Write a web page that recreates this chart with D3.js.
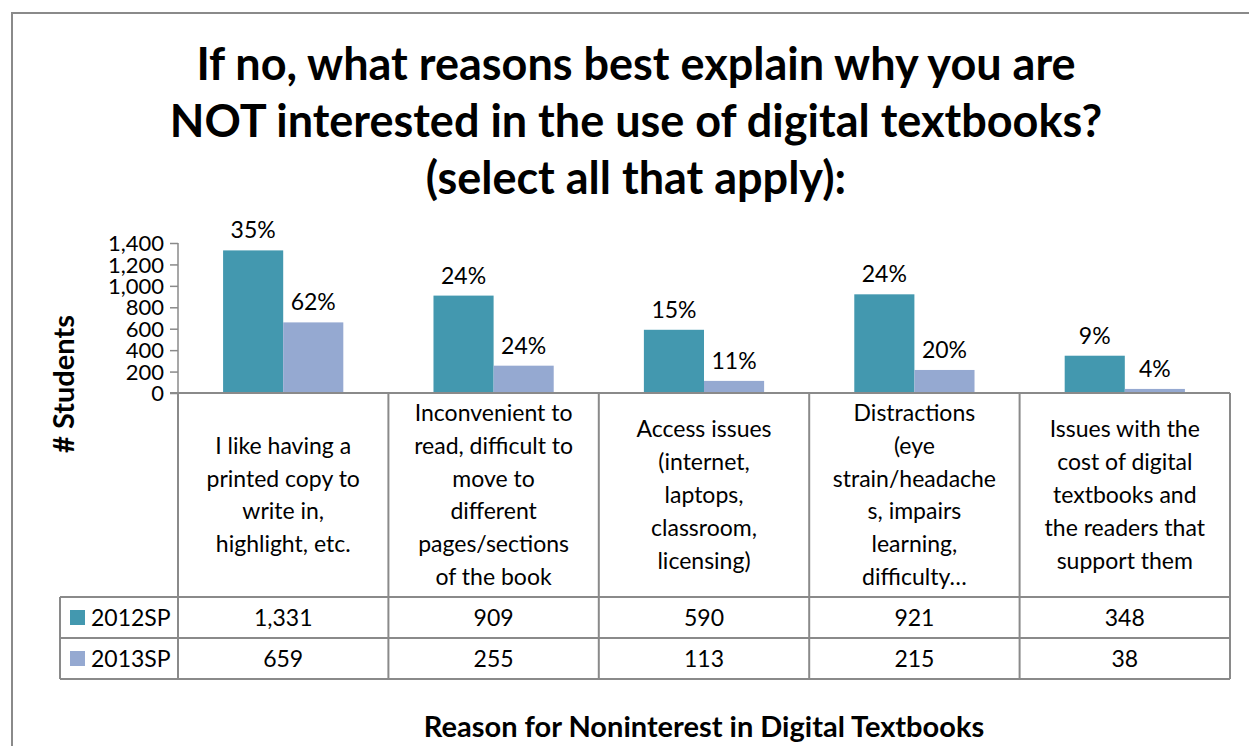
<!DOCTYPE html>
<html lang="en">

<head>
  <meta charset="utf-8">
  <title>Digital textbooks - noninterest</title>
  <script type="text/javascript" src="https://cdn.jsdelivr.net/npm/d3@7"></script>
  <style>
    body { margin: 0; background: #fff; }
    text { font-family: Lato, "Open Sans", sans-serif; fill: #000; }
  </style>
</head>

<body>

  <script type="text/javascript">

    // Categories (wrapped the way the chart's data table shows them)
    var categories = ["printed", "inconvenient", "access", "distractions", "cost"];
    var categoryLines = [
      ["I like having a", "printed copy to", "write in,", "highlight, etc."],
      ["Inconvenient to", "read, difficult to", "move to", "different", "pages/sections", "of the book"],
      ["Access issues", "(internet,", "laptops,", "classroom,", "licensing)"],
      ["Distractions", "(eye", "strain/headache", "s, impairs", "learning,", "difficulty…"],
      ["Issues with the", "cost of digital", "textbooks and", "the readers that", "support them"]
    ];

    var seriesNames = ["2012SP", "2013SP"];
    var values2012 = [1331, 909, 590, 921, 348];
    var values2013 = [659, 255, 113, 215, 38];
    var pct2012 = ["35%", "24%", "15%", "24%", "9%"];
    var pct2013 = ["62%", "24%", "11%", "20%", "4%"];
    var yTicks = [0, 200, 400, 600, 800, 1000, 1200, 1400];

    var titleLines = [
      "If no, what reasons best explain why you are",
      "NOT interested in the use of digital textbooks?",
      "(select all that apply):"
    ];

    var colors = ["#4398AF", "#95A9D1"];
    var lineColor = "#8a8a8a";

    var w = 1249;
    var h = 746;

    // plot area and table geometry
    var plotLeft = 178, plotRight = 1230;
    var plotTop = 243, plotBottom = 393;
    var tableLeft = 60;
    var headerBottom = 597;
    var rowH = 41;
    var bodyFont = "23px";

    var series = seriesNames.map(function (name, s) {
      var vals = s === 0 ? values2012 : values2013;
      var pcts = s === 0 ? pct2012 : pct2013;
      return vals.map(function (v, i) {
        return { series: name, s: s, cat: categories[i], value: v, pct: pcts[i] };
      });
    });

    var svg = d3.select("body")
      .append("svg")
      .attr("width", w)
      .attr("height", h);

    // outer chart border
    svg.append("rect")
      .attr("x", 12)
      .attr("y", 13)
      .attr("width", 1300)
      .attr("height", 800)
      .attr("fill", "#fff")
      .attr("stroke", lineColor)
      .attr("stroke-width", 2);

    // title
    svg.append("g")
      .selectAll("text")
      .data(titleLines)
      .enter()
      .append("text")
      .attr("x", 636)
      .attr("y", function (d, i) { return 80 + i * 57; })
      .attr("text-anchor", "middle")
      .attr("font-size", "45px")
      .attr("font-weight", "bold")
      .text(function (d) { return d; });

    // scales
    var xScale = d3.scaleBand()
      .domain(categories)
      .range([plotLeft, plotRight])
      .paddingInner(0)
      .paddingOuter(0);

    var xInner = d3.scaleBand()
      .domain(seriesNames)
      .range([0, xScale.bandwidth()])
      .paddingInner(0)
      .paddingOuter(0.75);

    var yScale = d3.scaleLinear()
      .domain([0, 1400])
      .range([plotBottom, plotTop]);

    // bars
    var groups = svg.append("g")
      .selectAll("g")
      .data(series)
      .enter()
      .append("g")
      .attr("fill", function (d, s) { return colors[s]; });

    groups.selectAll("rect")
      .data(function (d) { return d; })
      .enter()
      .append("rect")
      .attr("x", function (d) { return xScale(d.cat) + xInner(d.series); })
      .attr("y", function (d) { return yScale(d.value); })
      .attr("width", xInner.bandwidth())
      .attr("height", function (d) { return plotBottom - yScale(d.value); });

    // percent labels
    groups.selectAll("text")
      .data(function (d) { return d; })
      .enter()
      .append("text")
      .attr("x", function (d) { return xScale(d.cat) + xInner(d.series) + xInner.bandwidth() / 2; })
      .attr("y", function (d) { return yScale(d.value) - 12; })
      .attr("text-anchor", "middle")
      .attr("font-size", bodyFont)
      .text(function (d) { return d.pct; });

    // y axis
    var yAxis = d3.axisLeft(yScale)
      .tickValues(yTicks)
      .tickFormat(d3.format(","))
      .tickSize(8)
      .tickPadding(6);

    var yG = svg.append("g")
      .attr("transform", "translate(" + plotLeft + ",0)")
      .call(yAxis);
    yG.select(".domain").attr("stroke", lineColor).attr("stroke-width", 1.5)
      .attr("d", "M0," + plotTop + "V" + plotBottom);
    yG.selectAll(".tick line").attr("stroke", lineColor).attr("stroke-width", 1.5);
    yG.selectAll(".tick text")
      .attr("font-family", "Lato, sans-serif")
      .attr("font-size", "22px")
      .attr("fill", "#000")
      .attr("dy", "0.35em");

    // y axis title
    svg.append("text")
      .attr("transform", "translate(74," + 384 + ") rotate(-90)")
      .attr("text-anchor", "middle")
      .attr("font-size", "29px")
      .attr("font-weight", "bold")
      .text("# Students");

    // data table lines
    var table = svg.append("g")
      .attr("stroke", lineColor)
      .attr("stroke-width", 2)
      .attr("fill", "none");

    // horizontal axis line doubles as table top
    table.append("line")
      .attr("x1", plotLeft - 8).attr("x2", plotRight)
      .attr("y1", plotBottom).attr("y2", plotBottom);

    d3.range(3).forEach(function (r) {
      table.append("line")
        .attr("x1", tableLeft).attr("x2", plotRight)
        .attr("y1", headerBottom + r * rowH).attr("y2", headerBottom + r * rowH);
    });

    table.append("line")
      .attr("x1", tableLeft).attr("x2", tableLeft)
      .attr("y1", headerBottom).attr("y2", headerBottom + 2 * rowH);

    var xEdges = categories.map(function (c) { return xScale(c); }).concat([plotRight]);
    table.selectAll("line.v")
      .data(xEdges)
      .enter()
      .append("line")
      .attr("class", "v")
      .attr("x1", function (d) { return d; }).attr("x2", function (d) { return d; })
      .attr("y1", plotBottom).attr("y2", headerBottom + 2 * rowH);

    // category labels in header cells
    var lineH = 32.8;
    var headerMid = (plotBottom + headerBottom) / 2;
    svg.append("g")
      .selectAll("text")
      .data(categoryLines)
      .enter()
      .append("text")
      .attr("text-anchor", "middle")
      .attr("font-size", bodyFont)
      .each(function (lines, i) {
        var cx = xScale(categories[i]) + xScale.bandwidth() / 2;
        var top = headerMid - (lines.length * lineH) / 2;
        d3.select(this).selectAll("tspan")
          .data(lines)
          .enter()
          .append("tspan")
          .attr("x", cx)
          .attr("y", function (d, j) { return top + j * lineH + lineH / 2; })
          .attr("dy", "0.35em")
          .text(function (d) { return d; });
      });

    // series rows: legend key + values
    var rows = svg.append("g")
      .selectAll("g")
      .data(series)
      .enter()
      .append("g")
      .attr("transform", function (d, s) {
        return "translate(0," + (headerBottom + s * rowH) + ")";
      });

    rows.append("rect")
      .attr("x", 70)
      .attr("y", 13)
      .attr("width", 15)
      .attr("height", 15)
      .attr("fill", function (d, s) { return colors[s]; });

    rows.append("text")
      .attr("x", 91)
      .attr("y", rowH / 2)
      .attr("dy", "0.35em")
      .attr("font-size", bodyFont)
      .text(function (d, s) { return seriesNames[s]; });

    rows.selectAll("text.val")
      .data(function (d) { return d; })
      .enter()
      .append("text")
      .attr("class", "val")
      .attr("x", function (d) { return xScale(d.cat) + xScale.bandwidth() / 2; })
      .attr("y", rowH / 2)
      .attr("dy", "0.35em")
      .attr("text-anchor", "middle")
      .attr("font-size", bodyFont)
      .text(function (d) { return d3.format(",")(d.value); });

    // x axis title
    svg.append("text")
      .attr("x", (plotLeft + plotRight) / 2)
      .attr("y", 737)
      .attr("text-anchor", "middle")
      .attr("font-size", "29px")
      .attr("font-weight", "bold")
      .text("Reason for Noninterest in Digital Textbooks");

  </script>

</body>

</html>
